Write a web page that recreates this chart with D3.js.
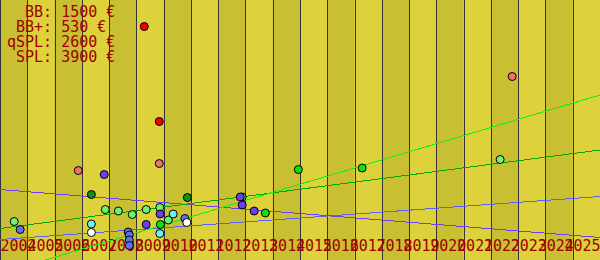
<!DOCTYPE html>
<html><head><meta charset="utf-8">
<script src="https://cdn.jsdelivr.net/npm/d3@7"></script>
<style>
html,body{margin:0;padding:0;background:#ddd23c;overflow:hidden}
svg{display:block}
</style></head>
<body>
<svg id="chart" width="600" height="260"></svg>
<script>
// ---- data ----
const years = d3.range(2004, 2026); // 2004..2025
const legendLabels = ["BB", "BB+", "qSPL", "SPL"];
const legendValues = [1500, 530, 2600, 3900];

// points: [year (fractional), value in €]
const redYears = [2009.29, 2009.84];
const redValues = [4670, 2770];
const salmonYears = [2006.87, 2009.84, 2022.78];
const salmonValues = [1790, 1930, 3670];
const lightGreenYears = [2004.52, 2007.86, 2008.34, 2008.85, 2009.36, 2009.86, 2010.17, 2022.34, 2012.88];
const lightGreenValues = [770, 1010, 980, 910, 1010, 1050, 800, 2010, 1260];
const darkGreenYears = [2007.35, 2010.87];
const darkGreenValues = [1310, 1250];
const brightGreenYears = [2009.88, 2013.73, 2014.94, 2017.28];
const brightGreenValues = [710, 940, 1810, 1840];
const cyanYears = [2007.35, 2010.35, 2009.86];
const cyanValues = [720, 920, 530];
const blueYears = [2004.74, 2010.78, 2008.70, 2008.74, 2008.74, 2008.74];
const blueValues = [610, 830, 560, 500, 400, 290];
const whiteYears = [2007.35, 2010.85];
const whiteValues = [550, 750];
const purpleYears = [2007.82, 2009.87, 2009.36, 2012.81, 2012.88, 2013.32];
const purpleValues = [1710, 920, 710, 1260, 1100, 980];

// trend lines: value at 2004 and 2026
const trendYears = [2004, 2026];
const trendBlue = [410, 1270];
const trendPurple = [1410, 450];
const trendDarkGreen = [630, 2200];
const trendBrightGreen = [-270, 3300];

// ---- drawing ----
const W = 600, H = 260;
const svg = d3.select("#chart");
const x = d3.scaleLinear().domain([2004, 2026]).range([0, W]);
const y = d3.scaleLinear().domain([0, 5200]).range([H, 0]);

// bands
svg.append("g").selectAll("rect").data(years).join("rect")
  .attr("x", d => x(d)).attr("y", 0)
  .attr("width", d => x(d + 1) - x(d)).attr("height", H)
  .attr("fill", (d, i) => i % 2 === 0 ? "#c9bf33" : "#ddd23c");

// vertical lines
svg.append("g").selectAll("line").data(years).join("line")
  .attr("x1", d => Math.round(x(d)) + 0.5).attr("x2", d => Math.round(x(d)) + 0.5)
  .attr("y1", 0).attr("y2", H)
  .attr("stroke", "#333338").attr("stroke-width", 1)
  .attr("shape-rendering", "crispEdges");

// year labels: spread so the last one fits inside the picture
const labelW = 36;
const xl = d3.scaleLinear().domain([2004, 2025]).range([0, W - labelW]);
const xAxis = d3.axisBottom(xl).tickValues(years).tickFormat(d3.format("d")).tickSize(0);
const ax = svg.append("g").attr("transform", "translate(0,238)").call(xAxis);
ax.select(".domain").remove();
ax.selectAll("text")
  .attr("text-anchor", "start").attr("dy", 0).attr("y", 13)
  .attr("font-family", "DejaVu Sans Mono").attr("font-size", 15)
  .attr("fill", "#a00000");

// legend
const lg = svg.append("g");
lg.selectAll("text").data(legendLabels).join("text")
  .attr("x", 7).attr("y", (d, i) => 17 + i * 15)
  .attr("xml:space", "preserve").style("white-space", "pre")
  .attr("font-family", "DejaVu Sans Mono").attr("font-size", 15)
  .attr("fill", "#a00000")
  .text((d, i) => (d + ":").padStart(5, " ") + " " + legendValues[i] + " €");

// trend lines
const line = d3.line().x(d => x(d[0])).y(d => y(d[1]));
const trends = [
  [trendBlue, "#6060f8"],
  [trendPurple, "#7040f0"],
  [trendDarkGreen, "#00a800"],
  [trendBrightGreen, "#10f010"]
];
svg.append("g").selectAll("path").data(trends).join("path")
  .attr("d", d => line(trendYears.map((yr, i) => [yr, d[0][i]])))
  .attr("fill", "none").attr("stroke", d => d[1]).attr("stroke-width", 1)
  .attr("shape-rendering", "crispEdges");

// points
const groups = [
  [lightGreenYears, lightGreenValues, "#70f070"],
  [darkGreenYears, darkGreenValues, "#109010"],
  [brightGreenYears, brightGreenValues, "#10e010"],
  [salmonYears, salmonValues, "#f07070"],
  [redYears, redValues, "#f00000"],
  [cyanYears, cyanValues, "#70f0f0"],
  [blueYears, blueValues, "#6070f0"],
  [whiteYears, whiteValues, "#ffffff"],
  [purpleYears, purpleValues, "#6a40e8"]
];
const pts = [];
groups.forEach(g => g[0].forEach((yr, i) => pts.push({yr, v: g[1][i], c: g[2]})));
svg.append("g").selectAll("circle").data(pts).join("circle")
  .attr("cx", d => x(d.yr)).attr("cy", d => y(d.v)).attr("r", 4)
  .attr("fill", d => d.c).attr("stroke", "#000").attr("stroke-width", 1);
</script>
</body></html>
